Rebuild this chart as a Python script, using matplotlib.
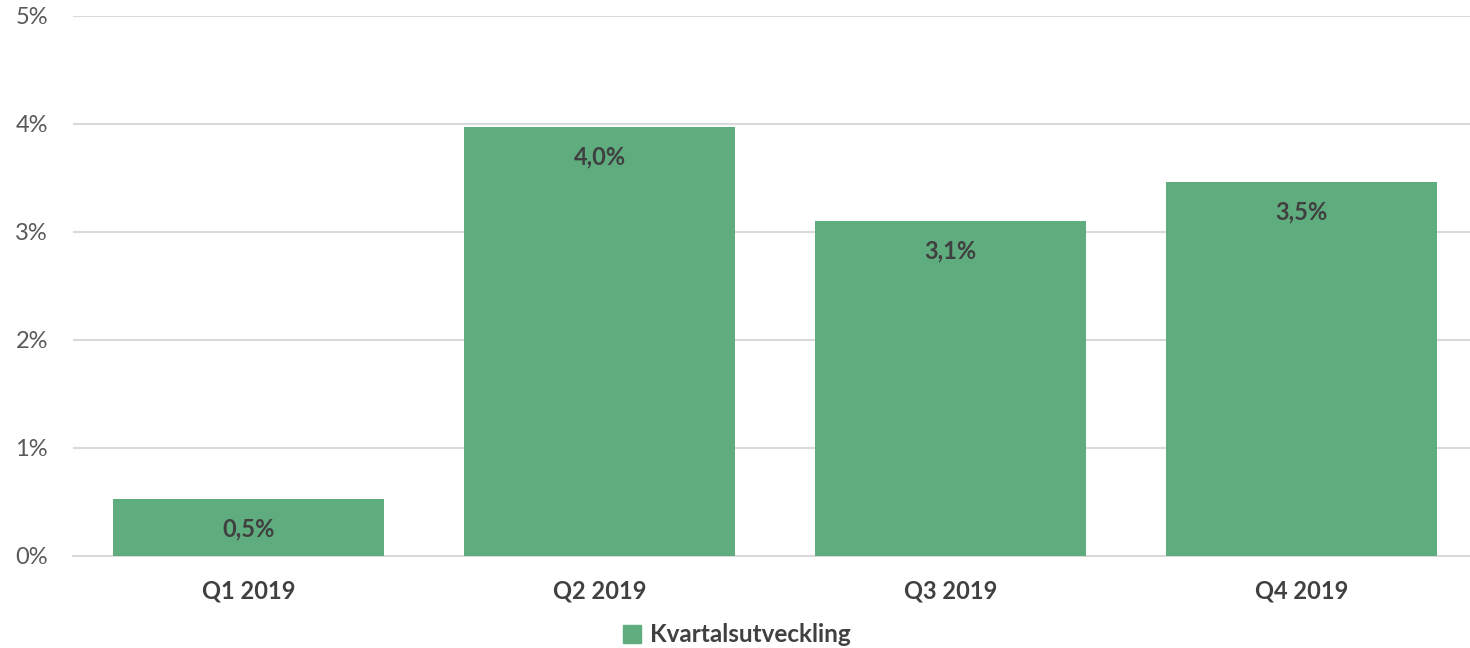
import matplotlib.pyplot as plt
from matplotlib.patches import Patch
from matplotlib.ticker import FuncFormatter

plt.rcParams['font.family'] = ['Lato', 'DejaVu Sans']

kvartal = ['Q1 2019', 'Q2 2019', 'Q3 2019', 'Q4 2019']
utveckling = [0.53, 3.97, 3.10, 3.46]
serie = 'Kvartalsutveckling'

gron = '#5fad7f'
text_farg = '#404040'

fig = plt.figure(figsize=(14.7, 6.48), dpi=100)
ax = fig.add_axes([73 / 1470, 92 / 648, 1404 / 1470, 540 / 648])

x = range(len(kvartal))
staplar = ax.bar(x, utveckling, width=0.772, color=gron, zorder=3)

for s, v in zip(staplar, utveckling):
    ax.annotate(f'{v:.1f}%'.replace('.', ','),
                (s.get_x() + s.get_width() / 2, v),
                xytext=(0, -30), textcoords='offset pixels',
                ha='center', va='center', fontsize=17, fontweight='bold',
                color=text_farg, zorder=4)

ax.set_xlim(-0.5, len(kvartal) - 0.5)
ax.set_ylim(0, 5)
ax.set_yticks(range(6))
ax.yaxis.set_major_formatter(FuncFormatter(lambda v, p: f'{v:.0f}%'))
ax.set_xticks(list(x))
ax.set_xticklabels(kvartal, fontsize=17, fontweight='bold', color=text_farg)
ax.tick_params(axis='y', labelsize=17, labelcolor='#595959', length=0, pad=18)
ax.tick_params(axis='x', length=0, pad=17)

ax.grid(axis='y', color='#d9d9d9', linewidth=1.5, zorder=0)
for sida in ['top', 'right', 'left']:
    ax.spines[sida].set_visible(False)
ax.spines['bottom'].set_color('#d9d9d9')
ax.spines['bottom'].set_linewidth(1.5)

fig.legend(handles=[Patch(color=gron, label=serie)], loc='center',
           bbox_to_anchor=(737 / 1470, 1 - 635 / 648), frameon=False,
           handlelength=0.75, handleheight=0.75, handletextpad=0.35,
           prop={'size': 17.5, 'weight': 'bold'}, labelcolor=text_farg)

fig.savefig('out.png', dpi=100)
plt.close(fig)
